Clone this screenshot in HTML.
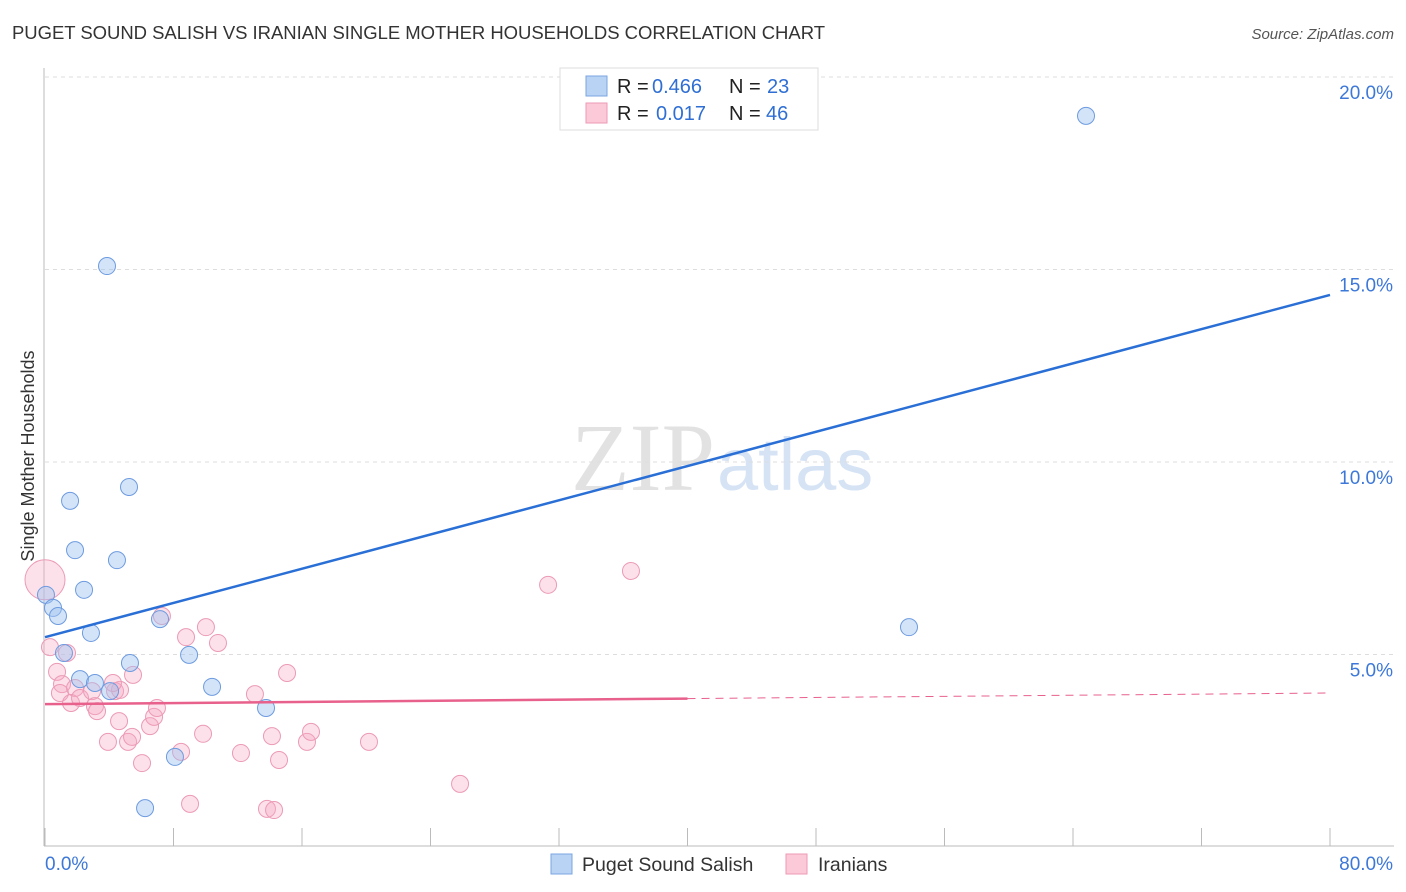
<!DOCTYPE html>
<html><head><meta charset="utf-8"><style>
body{margin:0;background:#fff;font-family:"Liberation Sans",sans-serif;}
</style></head><body>
<svg id="chart" width="1406" height="892" style="display:block">
<text x="12" y="39" font-size="18.5" fill="#333" textLength="813">PUGET SOUND SALISH VS IRANIAN SINGLE MOTHER HOUSEHOLDS CORRELATION CHART</text>
<text x="1394" y="39" font-size="15" fill="#555" font-style="italic" text-anchor="end">Source: ZipAtlas.com</text>
<text x="715" y="490" font-size="96" fill="#e2e2e2" text-anchor="end" font-family="Liberation Serif,serif">ZIP</text>
<text x="717" y="490" font-size="74" fill="#d5e3f5">atlas</text>
<g id="grid"></g>
<g id="axes"></g>
<g id="marks"></g>
<text transform="translate(34,456) rotate(-90)" font-size="18" fill="#333" text-anchor="middle">Single Mother Households</text>
<g>
<rect x="560" y="68" width="258" height="62" fill="#fff" stroke="#ddd"/>
<rect x="586" y="76" width="21" height="20" fill="#b9d3f5" stroke="#7aa6e0"/>
<rect x="586" y="103" width="21" height="20" fill="#fbc9d8" stroke="#ee9ab5"/>
<g font-size="20" fill="#222">
<text x="617" y="93">R =</text><text x="652" y="93" fill="#2f6fd4">0.466</text>
<text x="729" y="93">N =</text><text x="767" y="93" fill="#2f6fd4">23</text>
<text x="617" y="120">R =</text><text x="656" y="120" fill="#2f6fd4">0.017</text>
<text x="729" y="120">N =</text><text x="766" y="120" fill="#2f6fd4">46</text>
</g>
</g>
<g>
<rect x="551" y="854" width="21" height="20" fill="#b9d3f5" stroke="#7aa6e0"/>
<text x="582" y="871" font-size="19.5" fill="#333">Puget Sound Salish</text>
<rect x="786" y="854" width="21" height="20" fill="#fbc9d8" stroke="#ee9ab5"/>
<text x="818" y="871" font-size="19.5" fill="#333">Iranians</text>
</g>
</svg>
<script>
const blueX=[3.86,1.56,5.23,1.87,4.48,2.43,0.06,0.50,0.81,2.86,7.16,1.18,8.97,5.29,2.18,3.11,4.05,10.40,13.76,8.09,6.23,53.79,64.81];
const blueY=[15.09,8.99,9.35,7.71,7.45,6.68,6.55,6.21,6.00,5.56,5.92,5.04,4.99,4.78,4.36,4.26,4.05,4.16,3.61,2.34,1.01,5.71,18.99];
const pinkX=[0,0.31,1.37,0.75,1.06,0.93,1.87,1.62,2.18,2.93,3.11,3.24,4.36,4.67,4.23,5.48,7.28,8.78,10.02,10.77,5.17,4.61,3.92,5.42,6.54,6.79,6.97,6.04,8.47,9.84,12.20,14.13,14.57,16.31,16.56,13.07,15.07,20.17,25.84,9.03,13.82,14.26,31.32,36.48];
const pinkY=[6.94,5.19,5.04,4.55,4.23,4.00,4.13,3.74,3.87,4.05,3.66,3.53,4.05,4.08,4.26,4.47,6.00,5.45,5.71,5.30,2.73,3.27,2.73,2.86,3.14,3.38,3.61,2.18,2.47,2.94,2.44,2.88,2.26,2.73,2.99,3.97,4.52,2.73,1.64,1.12,0.99,0.96,6.81,7.17];
const pinkR=[20];
const blueTrend=[5.45,14.34];
const pinkTrend=[3.71,4.0];
const yTicks=[5,10,15,20];
const yTickLabels=["5.0%","10.0%","15.0%","20.0%"];
const xTickVals=[0,8,16,24,32,40,48,56,64,72,80];
const NS="http://www.w3.org/2000/svg";
const sx=v=>45+v*(1285/80), sy=v=>847-v*38.5;
function mk(p,t,a){const e=document.createElementNS(NS,t);for(const k in a)e.setAttribute(k,a[k]);p.appendChild(e);return e;}
const grid=document.getElementById('grid'),axes=document.getElementById('axes'),marks=document.getElementById('marks');
yTicks.forEach((v,i)=>{
 const l=mk(grid,'line',{x1:45,x2:1394,y1:sy(v),y2:sy(v),stroke:'#ddd','stroke-dasharray':'4,4'});
 
 
 const t=mk(axes,'text',{x:1393,y:sy(v)+22,'font-size':19,fill:'#3d78d8','text-anchor':'end'});t.textContent=yTickLabels[i];
 
 
});
mk(axes,'line',{x1:44,x2:44,y1:68,y2:846,stroke:'#bbb'});
mk(axes,'line',{x1:44,x2:1394,y1:846,y2:846,stroke:'#bbb'});
xTickVals.forEach(v=>{const l=mk(axes,'line',{x1:sx(v),x2:sx(v),y1:828,y2:846,stroke:'#bbb'});
 
 });
const t0=mk(axes,'text',{x:45,y:870,'font-size':19,fill:'#3d78d8'});t0.textContent='0.0%';


const t1=mk(axes,'text',{x:1393,y:870,'font-size':19,fill:'#3d78d8','text-anchor':'end'});t1.textContent='80.0%';


pinkX.forEach((x,i)=>{const c=mk(marks,'circle',{cx:sx(x),cy:sy(pinkY[i]),r:i===0?pinkR[0]:8.5,fill:'rgba(247,170,196,0.35)',stroke:'#ec9ab6','stroke-width':1});
 
 });
blueX.forEach((x,i)=>{const c=mk(marks,'circle',{cx:sx(x),cy:sy(blueY[i]),r:8.5,fill:'rgba(160,196,240,0.45)',stroke:'#6d9be0','stroke-width':1});
 
 });
const bl=mk(marks,'line',{x1:sx(0),y1:sy(blueTrend[0]),x2:sx(80),y2:sy(blueTrend[1]),stroke:'#2a6fd6','stroke-width':2.5});


const pm=pinkTrend[0]+(pinkTrend[1]-pinkTrend[0])*(40/80);
const pl=mk(marks,'line',{x1:sx(0),y1:sy(pinkTrend[0]),x2:sx(40),y2:sy(pm),stroke:'#e8608c','stroke-width':2.5});


const pd=mk(marks,'line',{x1:sx(40),y1:sy(pm),x2:sx(80),y2:sy(pinkTrend[1]),stroke:'#e8608c','stroke-width':1,'stroke-dasharray':'8,6'});


</script>
</body></html>
